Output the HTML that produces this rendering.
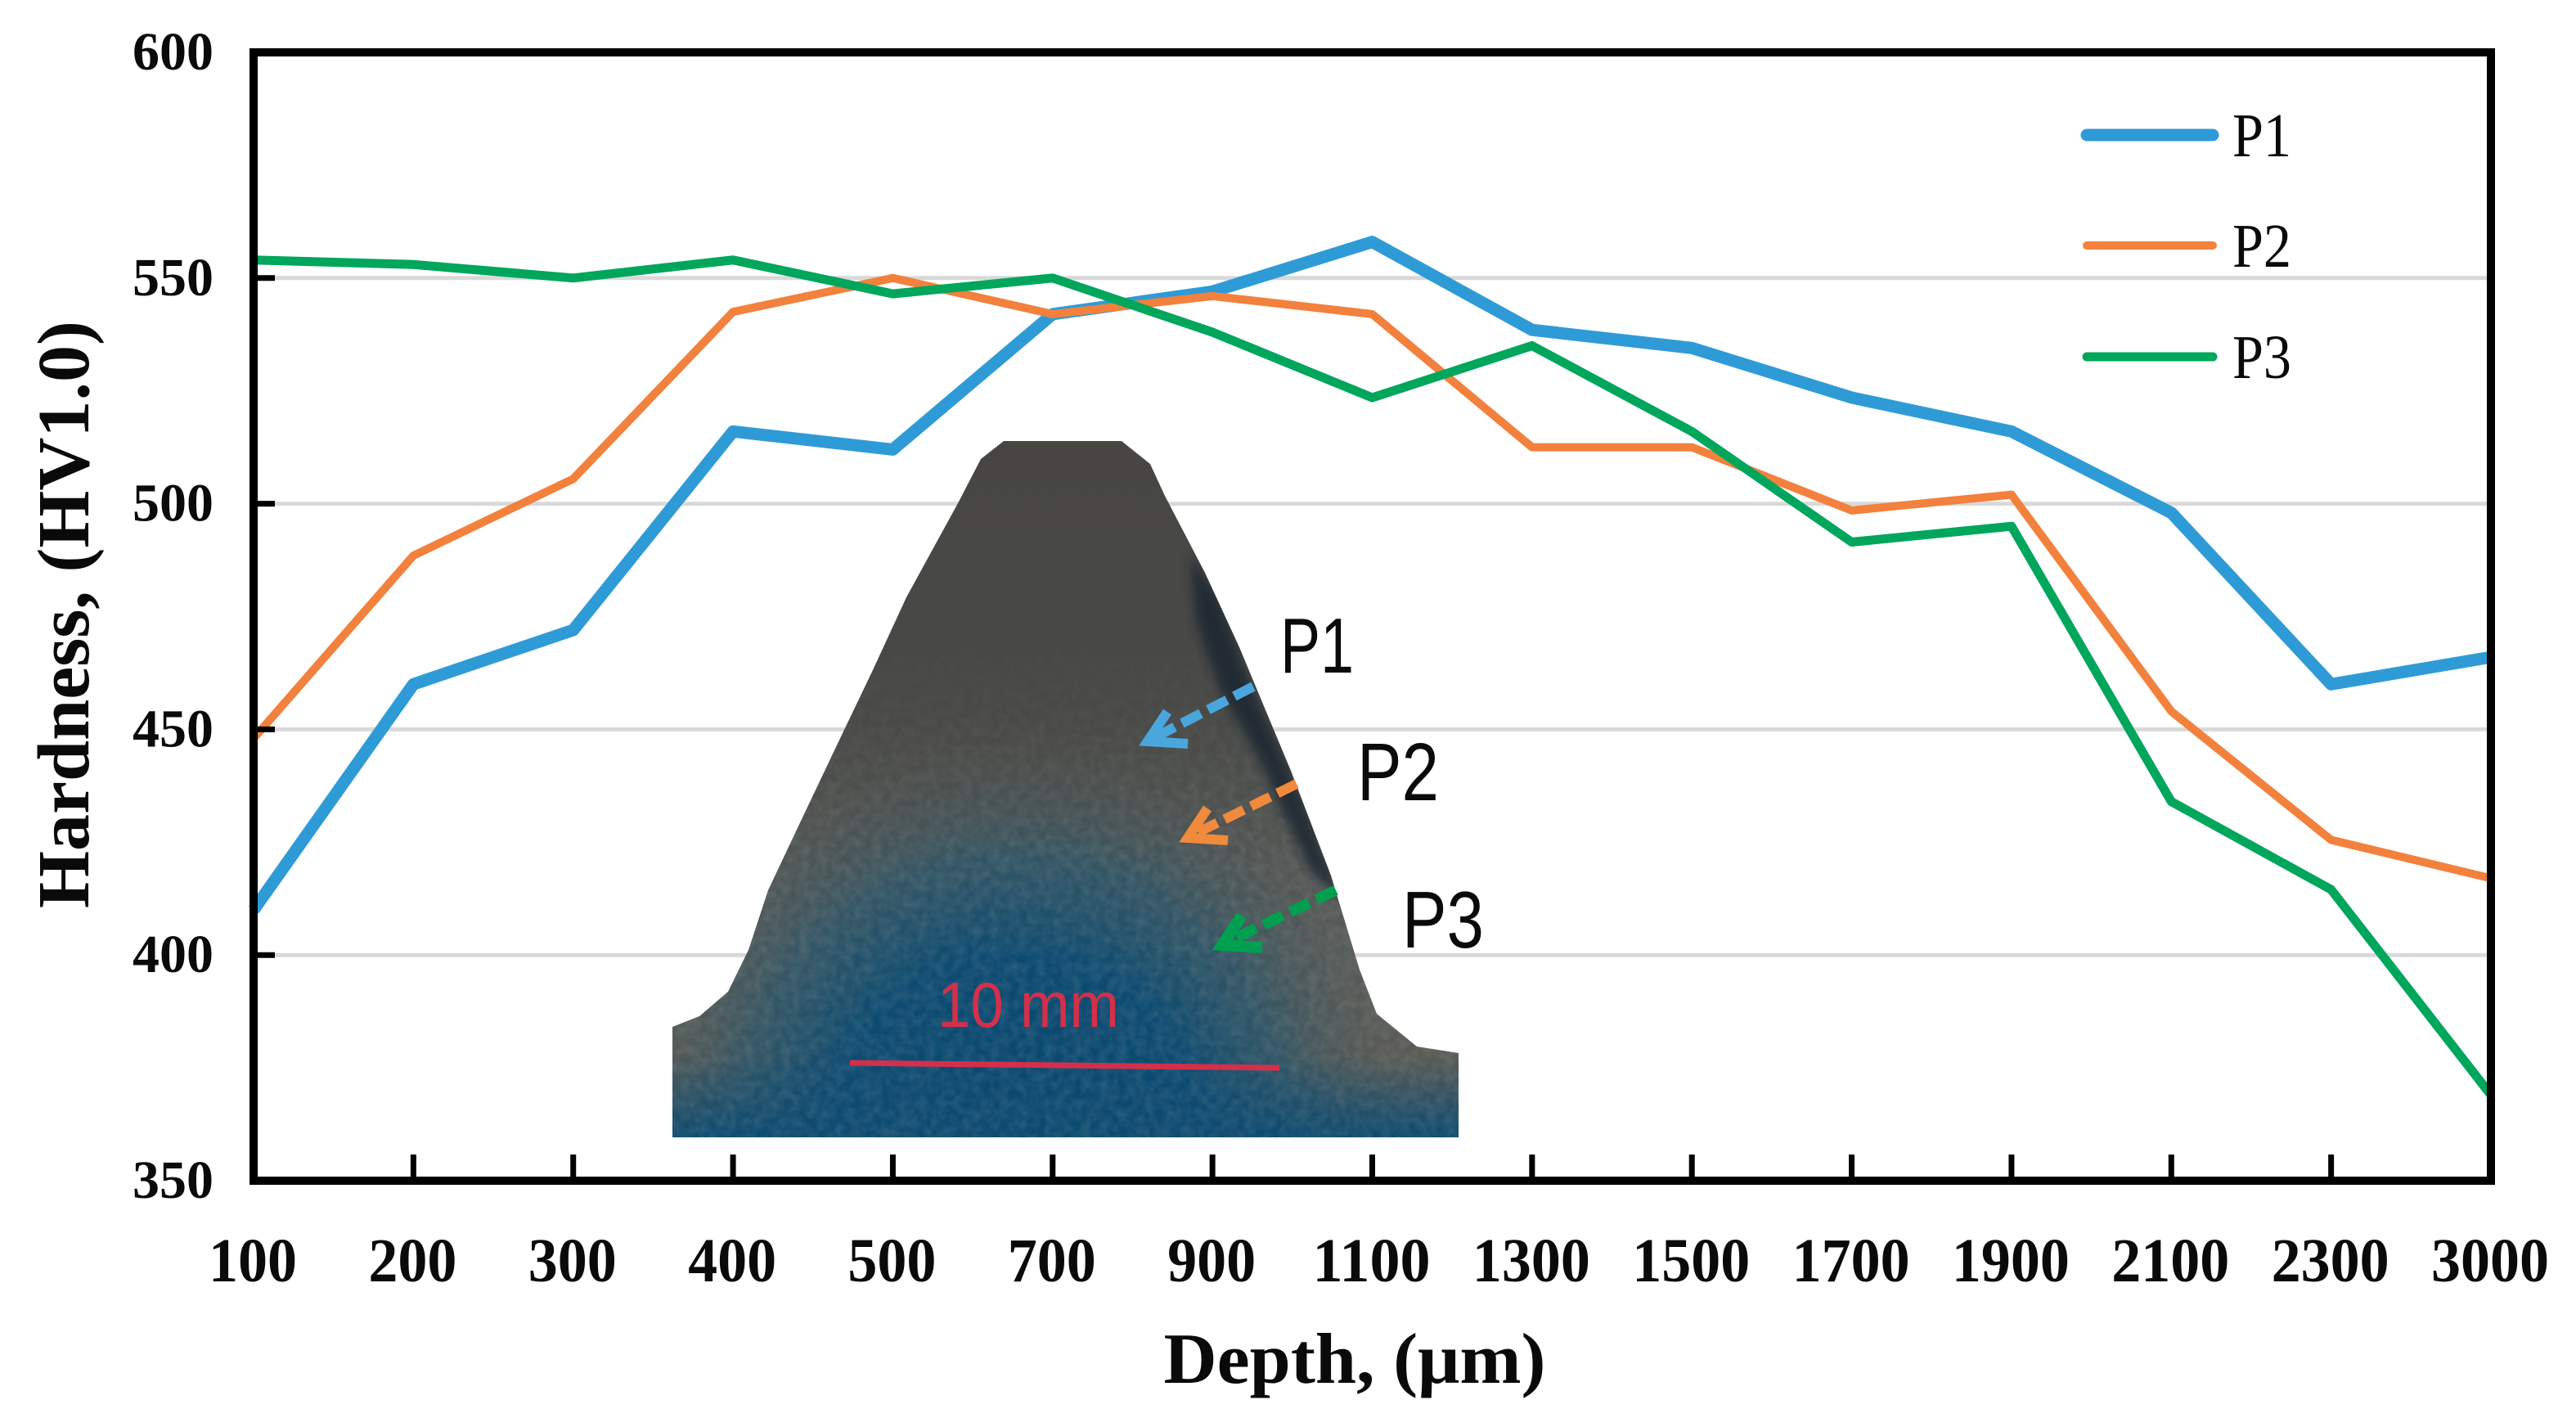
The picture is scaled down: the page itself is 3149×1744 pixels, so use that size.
<!DOCTYPE html>
<html lang="en">
<head>
<meta charset="utf-8">
<title>Hardness vs Depth</title>
<style>
html,body{margin:0;padding:0;background:#fff;width:3149px;height:1744px;overflow:hidden}
svg{display:block}
text{font-family:"Liberation Serif",serif;fill:#0a0a0a}
.sans{font-family:"Liberation Sans",sans-serif}
</style>
</head>
<body>
<svg id="chart" xmlns="http://www.w3.org/2000/svg" width="3149" height="1744" viewBox="0 0 3149 1744">
  <defs>
    <radialGradient id="blueCore" gradientUnits="userSpaceOnUse" cx="1240" cy="1390" r="470">
      <stop offset="0" stop-color="#07476f"/>
      <stop offset="0.48" stop-color="#0c4a70"/>
      <stop offset="0.72" stop-color="#2a5468" stop-opacity="0.8"/>
      <stop offset="1" stop-color="#4c5654" stop-opacity="0"/>
    </radialGradient>
    <linearGradient id="baseTone" gradientUnits="userSpaceOnUse" x1="0" y1="539" x2="0" y2="1390">
      <stop offset="0" stop-color="#474643"/>
      <stop offset="0.4" stop-color="#494a47"/>
      <stop offset="0.72" stop-color="#565a58"/>
      <stop offset="1" stop-color="#5c5a52"/>
    </linearGradient>
    <linearGradient id="bottomBand" x1="0" y1="0" x2="0" y2="1">
      <stop offset="0" stop-color="#0c4a70" stop-opacity="0"/>
      <stop offset="1" stop-color="#0c4a70" stop-opacity="1"/>
    </linearGradient>
    <linearGradient id="grainFade" gradientUnits="userSpaceOnUse" x1="0" y1="780" x2="0" y2="1040">
      <stop offset="0" stop-color="#000"/>
      <stop offset="1" stop-color="#fff"/>
    </linearGradient>
    <mask id="grainMask" maskUnits="userSpaceOnUse" x="822" y="539" width="961" height="851">
      <rect x="822" y="539" width="961" height="851" fill="url(#grainFade)"/>
    </mask>
    <clipPath id="specimenClip">
      <polygon points="822,1390 822,1255 855,1242 890,1212 915,1161 939,1088 982,997 1031,894 1066,821 1108,730 1171,615 1199,561 1227,539 1371,539 1406,567 1424,606 1473,700 1515,791 1578,942 1627,1070 1662,1185 1683,1239 1732,1279 1783,1287 1783,1390"/>
    </clipPath>
    <filter id="grain" x="0" y="0" width="100%" height="100%">
      <feTurbulence type="fractalNoise" baseFrequency="0.09" numOctaves="2" seed="4"/>
      <feColorMatrix type="matrix" values="0 0 0 0 0.55  0 0 0 0 0.6  0 0 0 0 0.58  0 0 0 0.55 -0.14"/>
    </filter>
    <filter id="soft" x="-20%" y="-20%" width="140%" height="140%"><feGaussianBlur stdDeviation="6"/></filter>
  </defs>

  <g id="grid"></g>
  <g id="series"></g>

  <g>
    <g clip-path="url(#specimenClip)">
      <rect x="822" y="539" width="961" height="851" fill="url(#baseTone)"/>
      <rect x="700" y="880" width="1100" height="510" fill="url(#blueCore)"/>
      <rect x="822" y="1290" width="961" height="100" fill="url(#bottomBand)"/>
      <g mask="url(#grainMask)"><rect x="822" y="539" width="961" height="851" filter="url(#grain)" opacity="0.45"/></g>
      <polygon points="1455,680 1490,730 1530,840 1590,970 1640,1100 1600,1060 1540,930 1490,840 1462,760" fill="#1f2730" opacity="0.85" filter="url(#soft)"/>
    </g>
    <line x1="1039" y1="1299" x2="1564" y2="1305" stroke="#d4304a" stroke-width="7"/>
    <text class="sans" x="1146" y="1255" font-size="78" textLength="222" lengthAdjust="spacingAndGlyphs" style="fill:#d4304a">10 mm</text>
  </g>

  <g>
    <line x1="1532" y1="839" x2="1412" y2="901" stroke="#4aa6dc" stroke-width="12" stroke-dasharray="26 10"/>
    <polyline points="1427,870 1403,906 1452,909" fill="none" stroke="#4aa6dc" stroke-width="12"/>
    <text class="sans" x="1565" y="822" font-size="96" textLength="90" lengthAdjust="spacingAndGlyphs">P1</text>
  </g>
  <g>
    <line x1="1585" y1="958" x2="1461" y2="1019" stroke="#f08a3c" stroke-width="12" stroke-dasharray="26 10"/>
    <polyline points="1476,988 1452,1024 1501,1027" fill="none" stroke="#f08a3c" stroke-width="12"/>
    <text class="sans" x="1659" y="978" font-size="100" textLength="100" lengthAdjust="spacingAndGlyphs">P2</text>
  </g>
  <g>
    <line x1="1633" y1="1088" x2="1503" y2="1150" stroke="#00a050" stroke-width="13" stroke-dasharray="26 10"/>
    <polyline points="1518,1119 1494,1155 1543,1158" fill="none" stroke="#00a050" stroke-width="14"/>
    <text class="sans" x="1714" y="1158" font-size="98" textLength="100" lengthAdjust="spacingAndGlyphs">P3</text>
  </g>

  <g id="axes"></g>
  <g id="legend"></g>

  <text x="1656" y="1690" text-anchor="middle" font-size="88" font-weight="bold" textLength="467" lengthAdjust="spacingAndGlyphs">Depth, (μm)</text>
  <text transform="translate(108 751) rotate(-90)" text-anchor="middle" font-size="90" font-weight="bold" textLength="718" lengthAdjust="spacingAndGlyphs">Hardness, (HV1.0)</text>
</svg>

<script>
const categories = ['100','200','300','400','500','700','900','1100','1300','1500','1700','1900','2100','2300','3000'];
const p1Values = [410,460,472,516,512,542,547,558,538.5,534.5,523.5,516,498,460,466];
const p2Values = [448,488.5,505.5,542.5,550,542,546,542,512.5,512.5,498.5,502,454,425.5,417];
const p3Values = [554,553,550,554,546.5,550,538,523.5,535,516,491.5,495,434,414.5,369];
const yTicks = [350,400,450,500,550,600];
const gridValues = [400,450,500,550];
const seriesNames = ['P1','P2','P3'];

const NS = 'http://www.w3.org/2000/svg';
const plot = {left:310, right:3045, top:64, bottom:1443};
const yMin = 350, yMax = 600;
function xPos(i){ return plot.left + i * (plot.right - plot.left) / (categories.length - 1); }
function yPos(v){ return plot.bottom - (v - yMin) * (plot.bottom - plot.top) / (yMax - yMin); }
function make(tag, attrs, parent){
  const el = document.createElementNS(NS, tag);
  for (const k in attrs) el.setAttribute(k, attrs[k]);
  parent.appendChild(el);
  return el;
}

const gridGroup = document.getElementById('grid');
gridValues.forEach(function(v){
  const el = make('line', {x1:plot.left, x2:plot.right, y1:yPos(v), y2:yPos(v), stroke:'#d9d9d9', 'stroke-width':5}, gridGroup);
  
  
});

const seriesGroup = document.getElementById('series');
const seriesStyles = [
  {color:'#2f9bd6', width:15},
  {color:'#f2813d', width:10},
  {color:'#00a65c', width:11}
];
[p1Values, p2Values, p3Values].forEach(function(vals, s){
  const pts = vals.map(function(v, i){ return xPos(i) + ',' + yPos(v); }).join(' ');
  const el = make('polyline', {points:pts, fill:'none', stroke:seriesStyles[s].color, 'stroke-width':seriesStyles[s].width, 'stroke-linejoin':'round'}, seriesGroup);
  
  
});

const axesGroup = document.getElementById('axes');
const frame = make('rect', {x:plot.left, y:plot.top, width:plot.right - plot.left, height:plot.bottom - plot.top, fill:'none', stroke:'#000', 'stroke-width':10}, axesGroup);



yTicks.forEach(function(v){
  if (v !== yMin && v !== yMax) {
    const t = make('line', {x1:plot.left, x2:plot.left + 26, y1:yPos(v), y2:yPos(v), stroke:'#000', 'stroke-width':7}, axesGroup);
    
    
  }
  const label = make('text', {x:261, y:yPos(v) + 21, 'text-anchor':'end', 'font-size':66, 'font-weight':'bold'}, axesGroup);
  label.textContent = String(v);
  
  
});

categories.forEach(function(c, i){
  if (i > 0 && i < categories.length - 1) {
    const t = make('line', {x1:xPos(i), x2:xPos(i), y1:plot.bottom - 32, y2:plot.bottom, stroke:'#000', 'stroke-width':7}, axesGroup);
    
    
  }
  const label = make('text', {x:xPos(i) - 1, y:1566, 'text-anchor':'middle', 'font-size':76, 'font-weight':'bold', textLength:c.length * 36, lengthAdjust:'spacingAndGlyphs'}, axesGroup);
  label.textContent = c;
  
  
});

const legendGroup = document.getElementById('legend');
const legendRows = [165, 300, 436];
seriesNames.forEach(function(name, s){
  const swatch = make('line', {x1:2551, x2:2705, y1:legendRows[s], y2:legendRows[s], stroke:seriesStyles[s].color, 'stroke-width':seriesStyles[s].width, 'stroke-linecap':'round'}, legendGroup);
  
  
  const label = make('text', {x:2729, y:legendRows[s] + 26, 'font-size':76, textLength:72, lengthAdjust:'spacingAndGlyphs'}, legendGroup);
  label.textContent = name;
  
  
});
</script>
</body>
</html>
